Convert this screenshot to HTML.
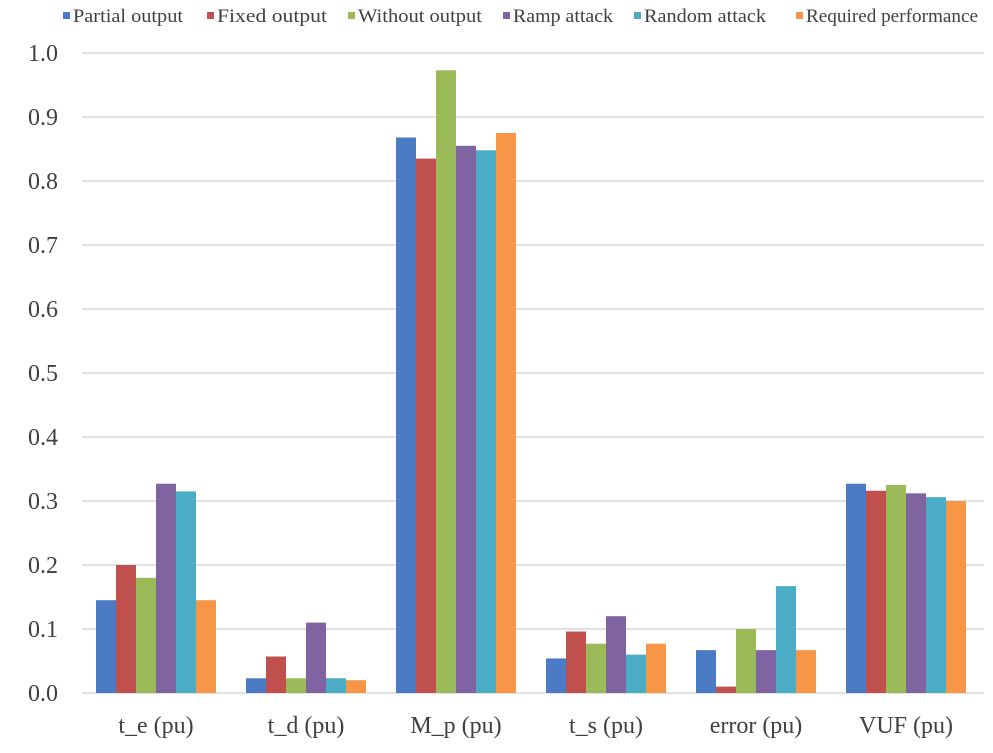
<!DOCTYPE html>
<html><head><meta charset="utf-8"><style>body{margin:0;background:#fff}svg{display:block}</style></head><body>
<svg width="993" height="753" xmlns="http://www.w3.org/2000/svg" font-family="Liberation Serif, serif">
<g stroke="#d9d9d9" stroke-width="1.5">
<line x1="82" x2="984" y1="53" y2="53"/><line x1="82" x2="984" y1="117" y2="117"/><line x1="82" x2="984" y1="181" y2="181"/><line x1="82" x2="984" y1="245" y2="245"/><line x1="82" x2="984" y1="309" y2="309"/><line x1="82" x2="984" y1="373" y2="373"/><line x1="82" x2="984" y1="437" y2="437"/><line x1="82" x2="984" y1="501" y2="501"/><line x1="82" x2="984" y1="565" y2="565"/><line x1="82" x2="984" y1="629" y2="629"/><line x1="82" x2="984" y1="693" y2="693"/>
</g>
<g font-size="24" fill="#404040" text-anchor="end">
<text x="58" y="61">1.0</text><text x="58" y="125">0.9</text><text x="58" y="189">0.8</text><text x="58" y="253">0.7</text><text x="58" y="317">0.6</text><text x="58" y="381">0.5</text><text x="58" y="445">0.4</text><text x="58" y="509">0.3</text><text x="58" y="573">0.2</text><text x="58" y="637">0.1</text><text x="58" y="701">0.0</text>
</g>
<g id="bars"></g>
<g font-size="24" fill="#404040" text-anchor="middle">
<text x="156" y="733">t_e (pu)</text><text x="306" y="733">t_d (pu)</text><text x="456" y="733">M_p (pu)</text><text x="606" y="733">t_s (pu)</text><text x="756" y="733">error (pu)</text><text x="906" y="733">VUF (pu)</text>
</g>
<g font-size="19" fill="#404040">
<rect x="63" y="12" width="7" height="7" fill="#4a7bc4"/><text x="73" y="22" textLength="110" lengthAdjust="spacingAndGlyphs">Partial output</text>
<rect x="207" y="12" width="7" height="7" fill="#c0504d"/><text x="217" y="22" textLength="110" lengthAdjust="spacingAndGlyphs">Fixed  output</text>
<rect x="348" y="12" width="7" height="7" fill="#9bbb59"/><text x="358" y="22" textLength="124" lengthAdjust="spacingAndGlyphs">Without output</text>
<rect x="503" y="12" width="7" height="7" fill="#8064a2"/><text x="513" y="22" textLength="100" lengthAdjust="spacingAndGlyphs">Ramp attack</text>
<rect x="634" y="12" width="7" height="7" fill="#4bacc6"/><text x="644" y="22" textLength="122" lengthAdjust="spacingAndGlyphs">Random attack</text>
<rect x="796" y="12" width="7" height="7" fill="#f79646"/><text x="806" y="22" textLength="172" lengthAdjust="spacingAndGlyphs">Required performance</text>
</g>
</svg>
<script>
var d=[[0.145,0.2,0.18,0.327,0.315,0.145],[0.023,0.057,0.023,0.11,0.023,0.02],[0.868,0.835,0.973,0.855,0.848,0.875],[0.054,0.096,0.077,0.12,0.06,0.077],[0.067,0.01,0.1,0.067,0.167,0.067],[0.327,0.316,0.325,0.312,0.306,0.3]];
var c=["#4a7bc4","#c0504d","#9bbb59","#8064a2","#4bacc6","#f79646"];
var g=document.getElementById("bars"),s="";
d.forEach(function(r,i){r.forEach(function(v,j){var h=v*640;s+='<rect x="'+(96+i*150+j*20)+'" y="'+(693-h)+'" width="20" height="'+h+'" fill="'+c[j]+'"/>';});});
g.innerHTML=s;
</script>
</body></html>
